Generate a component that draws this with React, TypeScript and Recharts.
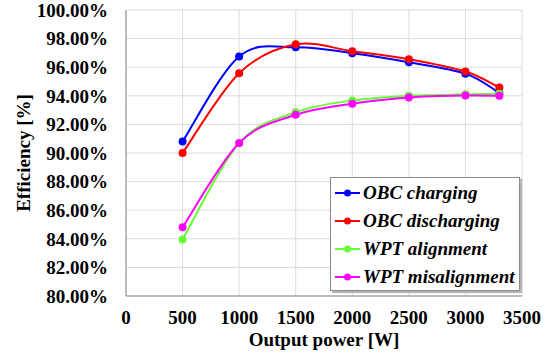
import { CartesianGrid, Line, LineChart, XAxis, YAxis } from "recharts";

// output power [W] and efficiency [%] per operating mode
const powerW = [500, 1000, 1500, 2000, 2500, 3000, 3300];
const obcCharging = [90.8, 96.75, 97.4, 96.98, 96.35, 95.55, 94.2];
const obcDischarging = [90.0, 95.58, 97.6, 97.12, 96.56, 95.7, 94.58];
const wptAlignment = [83.95, 90.7, 92.85, 93.67, 94.0, 94.1, 94.15];
const wptMisalignment = [84.8, 90.7, 92.67, 93.45, 93.88, 94.02, 94.0];

const xTicks = [0, 500, 1000, 1500, 2000, 2500, 3000, 3500];
const yTicks = [80, 82, 84, 86, 88, 90, 92, 94, 96, 98, 100];

const series = [
  { key: "obcCharging", name: "OBC charging", color: "#0000ff" },
  { key: "obcDischarging", name: "OBC discharging", color: "#ff0000" },
  { key: "wptAlignment", name: "WPT alignment", color: "#66ff33" },
  { key: "wptMisalignment", name: "WPT misalignment", color: "#ff00ff" },
];

const data = powerW.map((p, i) => ({
  power: p,
  obcCharging: obcCharging[i],
  obcDischarging: obcDischarging[i],
  wptAlignment: wptAlignment[i],
  wptMisalignment: wptMisalignment[i],
}));

const FONT = '"Liberation Serif", "Times New Roman", serif';

// Excel style smoothed line (Catmull-Rom through the points)
function excelSmooth(context: any) {
  let pts: number[][] = [];
  return {
    areaStart() {},
    areaEnd() {},
    lineStart() {
      pts = [];
    },
    lineEnd() {
      const n = pts.length;
      if (!n) return;
      context.moveTo(pts[0][0], pts[0][1]);
      for (let i = 0; i < n - 1; i++) {
        const p0 = pts[Math.max(i - 1, 0)];
        const p1 = pts[i];
        const p2 = pts[i + 1];
        const p3 = pts[Math.min(i + 2, n - 1)];
        context.bezierCurveTo(
          p1[0] + (p2[0] - p0[0]) / 6,
          p1[1] + (p2[1] - p0[1]) / 6,
          p2[0] - (p3[0] - p1[0]) / 6,
          p2[1] - (p3[1] - p1[1]) / 6,
          p2[0],
          p2[1]
        );
      }
    },
    point(x: number, y: number) {
      pts.push([+x, +y]);
    },
  };
}

const LegendBox = () => (
  <div
    style={{
      position: "absolute",
      left: 330,
      top: 177,
      width: 190,
      height: 114,
      border: "1px solid #8a8a8a",
      boxShadow: "2px 2px 1px #b5b5b5",
      background: "#fff",
      fontFamily: FONT,
      fontWeight: "bold",
      fontStyle: "italic",
      fontSize: 19,
      color: "#000",
      boxSizing: "border-box",
      paddingTop: 1,
    }}
  >
    {series.map((s) => (
      <div key={s.key} style={{ display: "flex", alignItems: "center", height: 28 }}>
        <svg width={27} height={10} style={{ marginLeft: 4, marginRight: 1 }}>
          <line x1={0} y1={5} x2={25} y2={5} stroke={s.color} strokeWidth={2} />
          <circle cx={12.5} cy={5} r={3.5} fill={s.color} />
        </svg>
        <span style={{ whiteSpace: "nowrap" }}>{s.name}</span>
      </div>
    ))}
  </div>
);

export default function App() {
  const tickStyle = { fill: "#000", fontSize: 19, fontWeight: "bold", fontFamily: FONT };
  return (
    <div style={{ position: "absolute", left: 0, top: 0, width: 556, height: 354, background: "#fff" }}>
      <LineChart width={556} height={354} data={data} margin={{ top: 10, right: 34, bottom: 0, left: 0 }}>
        <CartesianGrid stroke="#dcdcdc" strokeWidth={1} />
        <XAxis
          dataKey="power"
          type="number"
          domain={[0, 3500]}
          ticks={xTicks}
          interval={0}
          height={58}
          tickLine={false}
          tickMargin={9}
          stroke="#8a8a8a"
          tick={tickStyle}
          label={{
            value: "Output power [W]",
            position: "insideBottom",
            offset: 8,
            style: { fill: "#000", fontSize: 19, fontWeight: "bold", fontFamily: FONT },
          }}
        />
        <YAxis
          type="number"
          domain={[80, 100]}
          ticks={yTicks}
          interval={0}
          width={126}
          tickLine={false}
          tickMargin={12}
          stroke="#8a8a8a"
          tick={tickStyle}
          tickFormatter={(v: number) => `${v.toFixed(2)}%`}
          label={{
            content: (props: any) => {
              const vb = props.viewBox;
              const cx = vb.x + 30;
              const cy = vb.y + vb.height / 2;
              return (
                <text
                  x={cx}
                  y={cy}
                  transform={`rotate(-90 ${cx} ${cy})`}
                  textAnchor="middle"
                  fill="#000"
                  fontSize={19}
                  fontWeight="bold"
                  fontFamily={FONT}
                >
                  Efficiency [%]
                </text>
              );
            },
          }}
        />
        <XAxis xAxisId="top" orientation="top" type="number" domain={[0, 3500]} height={0} tick={false} tickLine={false} stroke="#8a8a8a" />
        <YAxis yAxisId="right" orientation="right" domain={[80, 100]} width={0} tick={false} tickLine={false} stroke="#8a8a8a" />
        {series.map((s) => (
          <Line
            key={s.key}
            dataKey={s.key}
            name={s.name}
            type={excelSmooth as any}
            stroke={s.color}
            strokeWidth={2}
            dot={{ r: 4, fill: s.color, stroke: s.color, strokeWidth: 0 }}
            activeDot={false}
            isAnimationActive={false}
          />
        ))}
      </LineChart>
      <LegendBox />
    </div>
  );
}
